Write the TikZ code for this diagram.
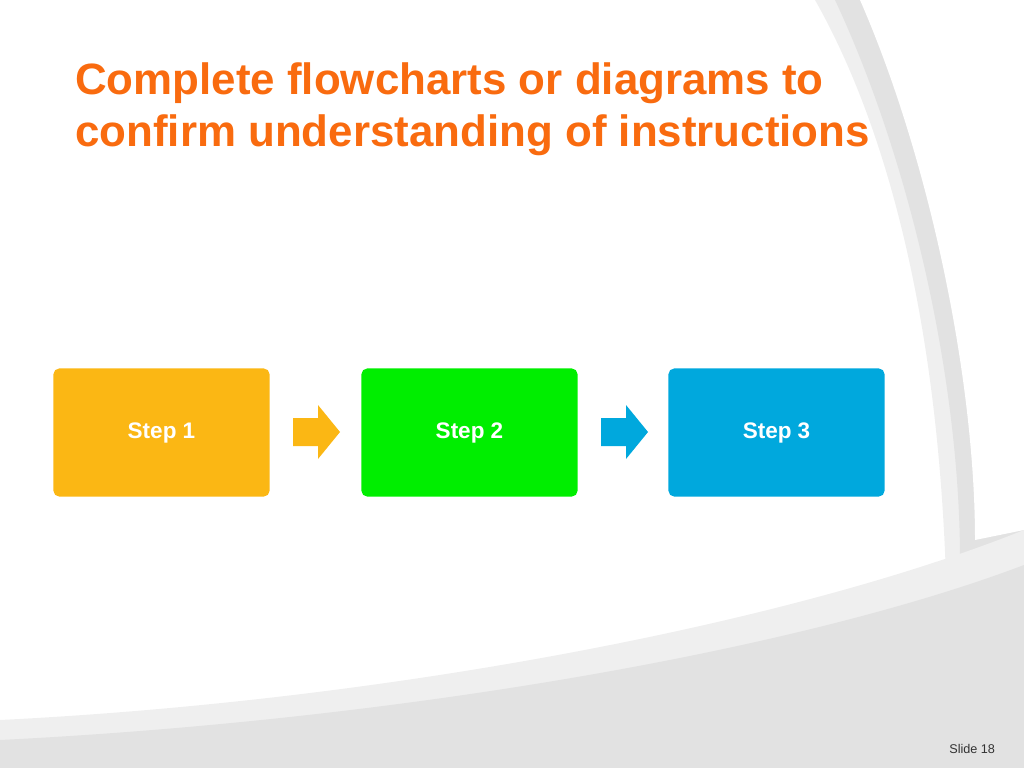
\documentclass[tikz,border=0pt]{standalone}
\usepackage{fontspec}
\setmainfont{Liberation Sans}
\usetikzlibrary{positioning}
\definecolor{titleorange}{HTML}{F96B0F}
\definecolor{stepyellow}{HTML}{FBB714}
\definecolor{stepgreen}{HTML}{00EE00}
\definecolor{stepblue}{HTML}{00A8DD}
\definecolor{swoosh}{HTML}{EFEFEF}
\definecolor{swooshdark}{HTML}{E2E2E2}
\newcommand{\blockarrow}[2]{\fill[#1] (#2) ++(0,-14) -- ++(25,0) -- ++(0,-13) -- ++(22,27) -- ++(-22,27) -- ++(0,-13) -- ++(-25,0) -- cycle;}
\begin{document}
\begin{tikzpicture}
    [x=0.025cm,y=-0.025cm,
    stepbox/.style = {minimum width=5.4cm,minimum height=3.2cm,rounded corners=4pt,inner sep=0pt,font=\bfseries\fontsize{16}{18}\selectfont,text=white}
    ]
\useasboundingbox (0,0) rectangle (1024,768);
% background swooshes
\fill[swoosh] (815,0) .. controls (900,150) and (960,400) .. (945,768) -- (1024,768) -- (1024,0) -- cycle;
\fill[swooshdark] (835,0) .. controls (910,160) and (960,380) .. (960,560) -- (1024,540) -- (1024,0) -- cycle;
\fill[white] (860,0) .. controls (930,160) and (975,380) .. (975,540) -- (1024,530) -- (1024,0) -- cycle;
\fill[swoosh] (0,720) .. controls (400,700) and (800,620) .. (1024,530) -- (1024,768) -- (0,768) -- cycle;
\fill[swooshdark] (0,740) .. controls (400,720) and (800,650) .. (1024,565) -- (1024,768) -- (0,768) -- cycle;

\node[anchor=north west,inner sep=0pt,text=titleorange,font=\bfseries\fontsize{31.2}{37}\selectfont,align=left] (title) at (75,62)
    {Complete flowcharts or diagrams to\\confirm understanding of instructions};

\node[stepbox,fill=stepyellow] (step1) at (161.5,432.5) {Step 1};
\node[stepbox,fill=stepgreen] (step2) at (469.5,432.5) {Step 2};
\node[stepbox,fill=stepblue] (step3) at (776.5,432.5) {Step 3};

\coordinate (arrow1) at (293,432);
\coordinate (arrow2) at (601,432);
\blockarrow{stepyellow}{arrow1}
\blockarrow{stepblue}{arrow2}

\node[anchor=base east,font=\fontsize{9}{10}\selectfont,text=black!80] (slide) at (1000,753) {Slide 18};
\end{tikzpicture}
\end{document}
